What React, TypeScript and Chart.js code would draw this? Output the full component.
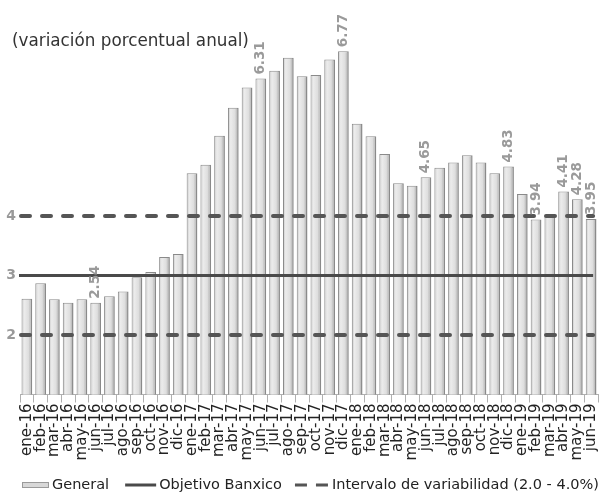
import React, { useEffect, useRef } from "react";
import { Chart, registerables } from "chart.js";

Chart.register(...registerables);

const months = [
  "ene-16", "feb-16", "mar-16", "abr-16", "may-16", "jun-16", "jul-16", "ago-16", "sep-16", "oct-16", "nov-16", "dic-16",
  "ene-17", "feb-17", "mar-17", "abr-17", "may-17", "jun-17", "jul-17", "ago-17", "sep-17", "oct-17", "nov-17", "dic-17",
  "ene-18", "feb-18", "mar-18", "abr-18", "may-18", "jun-18", "jul-18", "ago-18", "sep-18", "oct-18", "nov-18", "dic-18",
  "ene-19", "feb-19", "mar-19", "abr-19", "may-19", "jun-19",
];

const general = [
  2.61, 2.87, 2.60, 2.54, 2.60, 2.54, 2.65, 2.73, 2.97, 3.06, 3.31, 3.36,
  4.72, 4.86, 5.35, 5.82, 6.16, 6.31, 6.44, 6.66, 6.35, 6.37, 6.63, 6.77,
  5.55, 5.34, 5.04, 4.55, 4.51, 4.65, 4.81, 4.90, 5.02, 4.90, 4.72, 4.83,
  4.37, 3.94, 4.00, 4.41, 4.28, 3.95,
];

const labeledMonths = ["jun-16", "jun-17", "dic-17", "jun-18", "dic-18", "feb-19", "abr-19", "may-19", "jun-19"];

const objetivoBanxico = 3;
const intervaloVariabilidad = [2, 4];
const yTickValues = [2, 3, 4];
const yMin = 1;
const yMax = 7;

const titleText = "(variación porcentual anual)";
const legendGeneral = "General";
const legendObjetivo = "Objetivo Banxico";
const legendIntervalo = "Intervalo de variabilidad (2.0 - 4.0%)";

const FONT = "'DejaVu Sans', sans-serif";
const BAR_PCT = 0.78;

export default function App() {
  const canvasRef = useRef<HTMLCanvasElement | null>(null);

  useEffect(() => {
    if (!canvasRef.current) return;

    const barFill = (ctx: any) => {
      const chart = ctx.chart;
      const xs = chart.scales && chart.scales.x;
      if (!xs || ctx.dataIndex === undefined) return "#e0e0e0";
      const cx = xs.getPixelForValue(ctx.dataIndex);
      const w = (xs.width / months.length) * BAR_PCT;
      if (!isFinite(cx) || !isFinite(w) || w <= 0) return "#e0e0e0";
      const g = chart.ctx.createLinearGradient(cx - w / 2, 0, cx + w / 2, 0);
      g.addColorStop(0, "#c4c4c4");
      g.addColorStop(0.25, "#ececec");
      g.addColorStop(0.65, "#dedede");
      g.addColorStop(1, "#a0a0a0");
      return g;
    };

    const overlay = {
      id: "overlay",
      afterDatasetsDraw(chart: any) {
        const { ctx, chartArea } = chart;
        const ys = chart.scales.y;
        const xs = chart.scales.x;
        const x0 = chartArea.left;
        const x1 = xs.getPixelForValue(months.length - 1) + 2;
        ctx.save();
        ctx.strokeStyle = "#555555";
        ctx.lineWidth = 4;
        ctx.lineCap = "round";
        ctx.setLineDash([9, 12]);
        intervaloVariabilidad.forEach((v) => {
          const y = ys.getPixelForValue(v);
          ctx.beginPath();
          ctx.moveTo(x0 + 1, y);
          ctx.lineTo(x1, y);
          ctx.stroke();
        });
        ctx.setLineDash([]);
        ctx.lineCap = "butt";
        ctx.strokeStyle = "#4a4a4a";
        ctx.lineWidth = 3;
        const y3 = ys.getPixelForValue(objetivoBanxico);
        ctx.beginPath();
        ctx.moveTo(x0 - 1, y3);
        ctx.lineTo(x1, y3);
        ctx.stroke();

        const meta = chart.getDatasetMeta(0);
        ctx.font = `bold 13.5px ${FONT}`;
        ctx.fillStyle = "#9a9a9a";
        ctx.textAlign = "left";
        ctx.textBaseline = "middle";
        months.forEach((m, i) => {
          if (!labeledMonths.includes(m)) return;
          const el = meta.data[i];
          ctx.save();
          ctx.translate(el.x, el.y - 4);
          ctx.rotate(-Math.PI / 2);
          ctx.fillText(general[i].toFixed(2), 0, 0);
          ctx.restore();
        });
        ctx.restore();
      },
      afterDraw(chart: any) {
        const { ctx } = chart;
        ctx.save();
        ctx.font = `16.8px ${FONT}`;
        ctx.fillStyle = "#333333";
        ctx.textAlign = "left";
        ctx.textBaseline = "middle";
        ctx.fillText(titleText, 12, 42);

        // legend
        const ly = 485;
        ctx.font = `14.5px ${FONT}`;
        let x = 22;
        ctx.fillStyle = "#d8d8d8";
        ctx.fillRect(x, ly - 3, 27, 5);
        ctx.strokeStyle = "#9a9a9a";
        ctx.lineWidth = 1;
        ctx.strokeRect(x + 0.5, ly - 2.5, 26, 5);
        x += 30;
        ctx.fillStyle = "#222222";
        ctx.fillText(legendGeneral, x, ly);
        x += ctx.measureText(legendGeneral).width + 16;
        ctx.strokeStyle = "#4a4a4a";
        ctx.lineWidth = 3;
        ctx.beginPath();
        ctx.moveTo(x, ly);
        ctx.lineTo(x + 31, ly);
        ctx.stroke();
        x += 34;
        ctx.fillText(legendObjetivo, x, ly);
        x += ctx.measureText(legendObjetivo).width + 13;
        ctx.strokeStyle = "#555555";
        ctx.lineWidth = 3;
        ctx.setLineDash([12, 9]);
        ctx.beginPath();
        ctx.moveTo(x, ly);
        ctx.lineTo(x + 33, ly);
        ctx.stroke();
        ctx.setLineDash([]);
        x += 37;
        ctx.fillText(legendIntervalo, x, ly);
        ctx.restore();
      },
    };

    const chart = new Chart(canvasRef.current, {
      type: "bar",
      data: {
        labels: months,
        datasets: [
          {
            label: legendGeneral,
            data: general,
            backgroundColor: barFill,
            borderColor: "#8a8a8a",
            borderWidth: { left: 1, right: 1.5, top: 1, bottom: 0 } as any,
            borderSkipped: false as any,
            barPercentage: BAR_PCT,
            categoryPercentage: 1,
          },
        ],
      },
      options: {
        animation: false,
        responsive: true,
        maintainAspectRatio: false,
        layout: { padding: { top: 37.5, left: 0, right: 3, bottom: 0 } },
        scales: {
          x: {
            grid: {
              display: true,
              offset: true,
              drawOnChartArea: false,
              drawTicks: true,
              tickLength: 8,
              color: "#b0b0b0",
            },
            border: { display: true, color: "#b0b0b0" },
            afterFit(scale: any) {
              scale.height = 97.5;
              scale.paddingLeft = 0;
              scale.paddingRight = 0;
            },
            ticks: {
              autoSkip: false,
              maxRotation: 90,
              minRotation: 90,
              padding: 1,
              color: "#222222",
              font: { family: FONT, size: 15 },
            },
          },
          y: {
            min: yMin,
            max: yMax,
            grid: { display: false, drawTicks: false },
            border: { display: false },
            afterBuildTicks(scale: any) {
              scale.ticks = yTickValues.map((v) => ({ value: v }));
            },
            afterFit(scale: any) {
              scale.width = 20;
            },
            ticks: {
              padding: 4,
              color: "#999999",
              font: { family: FONT, size: 14, weight: "bold" },
            },
          },
        },
        plugins: {
          title: { display: false },
          tooltip: { enabled: false },
          legend: { display: false },
        },
      },
      plugins: [overlay],
    });

    return () => chart.destroy();
  }, []);

  return (
    <div style={{ position: "absolute", left: 0, top: 0, width: 601, height: 492 }}>
      <canvas ref={canvasRef} />
    </div>
  );
}
